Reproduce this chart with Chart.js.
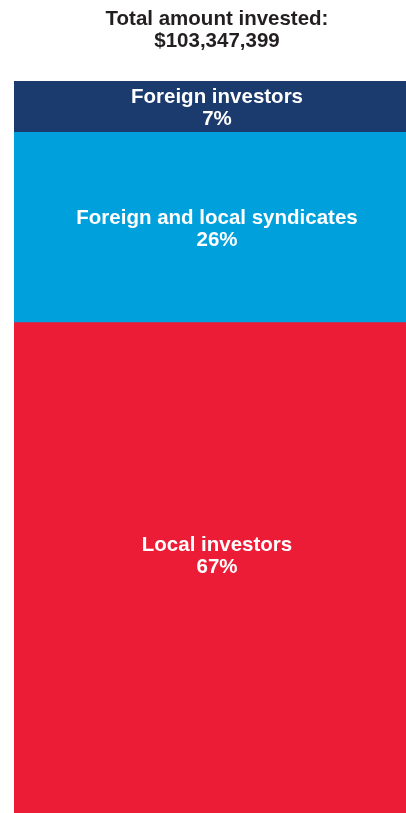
<!DOCTYPE html>
<html>
<head>
<meta charset="utf-8">
<script src="https://cdn.jsdelivr.net/npm/chart.js@4/dist/chart.umd.min.js"></script>
<style>
    html, body { margin: 0; padding: 0; background: #fff; overflow: hidden; }
    #wrap { width: 420px; height: 813px; position: relative; }
</style>
</head>
<body>
<div id="wrap"><canvas id="investChart"></canvas></div>
<script>
// Chart data
const categories = ['Total'];
const segmentNames = ['Local investors', 'Foreign and local syndicates', 'Foreign investors'];
const segmentShares = [67, 26, 7];
const segmentColors = ['#ec1c36', '#00a0dc', '#1b3a6d'];
const titleLines = ['Total amount invested:', '$103,347,399'];

// Draw the name and percentage inside each block
const blockLabels = {
    id: 'blockLabels',
    afterDatasetsDraw(chart, args, opts) {
        const ctx = chart.ctx;
        ctx.save();
        ctx.fillStyle = '#ffffff';
        ctx.font = 'bold 20.5px "Liberation Sans", Arial, sans-serif';
        ctx.textAlign = 'center';
        ctx.textBaseline = 'middle';
        chart.data.datasets.forEach((ds, i) => {
            const bar = chart.getDatasetMeta(i).data[0];
            const mid = (bar.y + bar.base) / 2 + (opts.shift[i] || 0);
            ctx.fillText(ds.label, bar.x, mid - 11);
            ctx.fillText(ds.data[0] + '%', bar.x, mid + 11);
        });
        ctx.restore();
    }
};

function init() {
    const ctx = document.getElementById('investChart').getContext('2d');
    new Chart(ctx, {
        type: 'bar',
        data: {
            labels: categories,
            datasets: segmentNames.map((name, i) => ({
                label: name,
                data: [segmentShares[i]],
                backgroundColor: segmentColors[i],
                borderWidth: 0
            }))
        },
        options: {
            responsive: true,
            maintainAspectRatio: false,
            animation: false,
            datasets: {
                bar: { barPercentage: 1, categoryPercentage: 1 }
            },
            layout: { padding: { left: 14, right: 0, top: 0, bottom: 0 } },
            scales: {
                x: { display: false, stacked: true },
                y: { display: false, stacked: true, min: 0, max: 100 }
            },
            plugins: {
                legend: { display: false },
                tooltip: { enabled: false },
                title: {
                    display: true,
                    text: titleLines,
                    color: '#231f20',
                    font: { family: '"Liberation Sans", Arial, sans-serif', size: 20.5, weight: 'bold', lineHeight: 1.05 },
                    padding: { top: 9, bottom: 29 }
                },
                blockLabels: { shift: [-11, 2, 2] }
            }
        },
        plugins: [blockLabels]
    });
}

document.addEventListener('DOMContentLoaded', init);
</script>
</body>
</html>
